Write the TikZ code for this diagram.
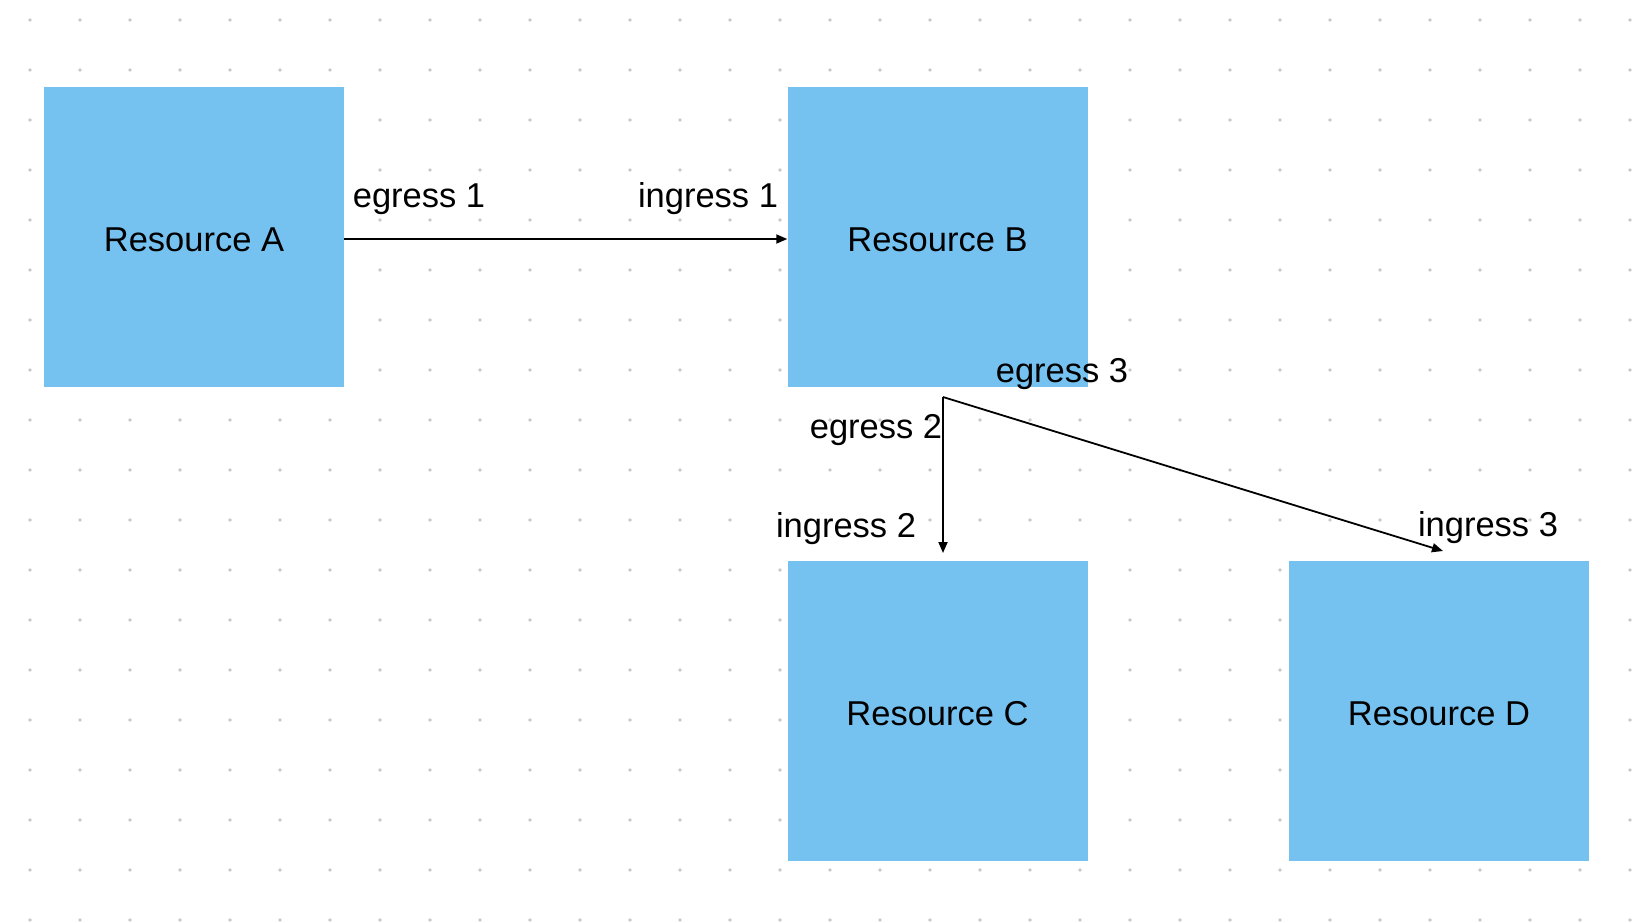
\documentclass[tikz,border=0pt]{standalone}
\usepackage{fontspec}
\setmainfont{Liberation Sans}
\usepackage{tikz}
\usetikzlibrary{arrows.meta}
\definecolor{resblue}{RGB}{117,194,240}
\definecolor{dotgray}{RGB}{200,200,200}
\tikzset{
  resource/.style={fill=resblue,minimum width=300,minimum height=300,inner sep=0pt},
  port/.style={anchor=base,inner sep=0pt},
  flow/.style={-{Triangle[length=11pt,width=9pt]},line width=1.8pt}
}
\newcommand{\restext}[1]{\raisebox{-3pt}[\height][0pt]{#1}}

\begin{document}
\begin{tikzpicture}[x=1pt,y=-1pt,font=\fontsize{34.5}{40}\selectfont]
\useasboundingbox[fill=white](0,0)rectangle(1644,922);
% dot grid
\foreach \i in {0,...,32}
  \foreach \j in {0,...,18}
    \fill[dotgray](30+50*\i,20+50*\j)circle(1.8);
% resources
\node[resource](resA)at(194,237){\restext{Resource A}};
\node[resource](resB)at(937.5,237){\restext{Resource B}};
\node[resource](resC)at(937.5,710.5){\restext{Resource C}};
\node[resource](resD)at(1439,710.5){\restext{Resource D}};
% flows
\coordinate(fork)at(943,397);
\coordinate(inC)at(943,553);
\coordinate(inD)at(1443,551);
\draw[flow](resA.east|-0,239)--(resB.west|-0,239);
\draw[flow](fork)--(inC);
\draw[flow](fork)--(inD);
% port labels
\node[port](eg1)at(419,207){egress 1};
\node[port](in1)at(708,207){ingress 1};
\node[port](eg3)at(1062,382){egress 3};
\node[port](eg2)at(876,438){egress 2};
\node[port](in2)at(846,537){ingress 2};
\node[port](in3)at(1488,536){ingress 3};
\end{tikzpicture}
\end{document}
